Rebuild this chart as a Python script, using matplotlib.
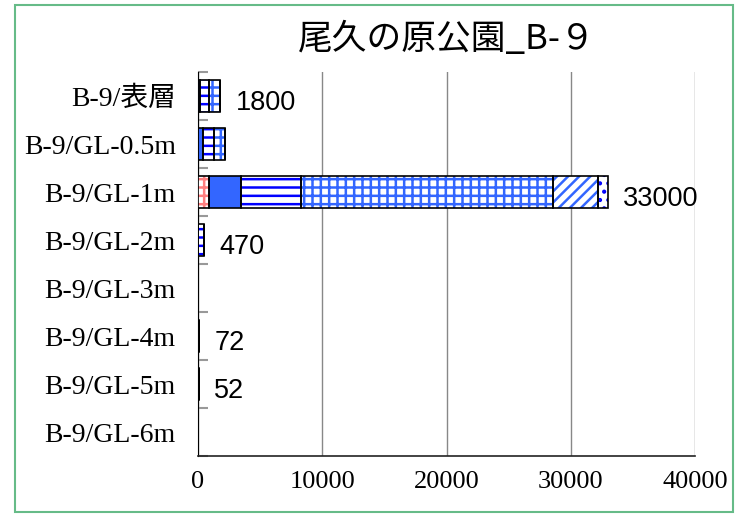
import matplotlib
matplotlib.use("Agg")
import matplotlib.pyplot as plt
from matplotlib.patches import Rectangle
import numpy as np

categories = ['B-9/表層', 'B-9/GL-0.5m', 'B-9/GL-1m', 'B-9/GL-2m',
              'B-9/GL-3m', 'B-9/GL-4m', 'B-9/GL-5m', 'B-9/GL-6m']
s_pink = [0, 0, 850, 0, 0, 0, 0, 0]
s_solid = [200, 400, 2650, 0, 0, 0, 0, 0]
s_hline = [650, 850, 4800, 470, 25, 72, 52, 30]
s_grid = [950, 900, 20300, 0, 0, 0, 0, 0]
s_diag = [0, 0, 3600, 0, 0, 0, 0, 0]
s_dots = [0, 0, 800, 0, 0, 0, 0, 0]
value_labels = ['1800', '', '33000', '470', '', '72', '52', '']
xticks = [0, 10000, 20000, 30000, 40000]
title = '尾久の原公園_B-９'

plt.rcParams['hatch.linewidth'] = 1.8
serif = ['Liberation Serif', 'Noto Sans CJK JP']

fig = plt.figure(figsize=(7.38, 5.17), dpi=100)
ax = fig.add_axes([198/738, 1-456/517, (695-198)/738, (456-72)/517])

y = np.arange(len(categories))
series = [
    (s_pink, 'white', '#FF8080', '++'),
    (s_solid, '#3366FF', '#3366FF', None),
    (s_hline, 'white', '#0000FF', '--'),
    (s_grid, 'white', '#3366FF', '++'),
    (s_diag, 'white', '#3366FF', '///'),
    (s_dots, 'white', '#0000FF', '..'),
]
left = np.zeros(len(categories))
h = 0.66
for vals, fc, hc, hatch in series:
    vals = np.array(vals, dtype=float)
    ax.barh(y, vals, left=left, height=h, color=fc, edgecolor=hc,
            hatch=hatch, linewidth=0, zorder=3)
    ax.barh(y, vals, left=left, height=h, fill=False, edgecolor='black',
            linewidth=1.2, zorder=4)
    left += vals

for i, lab in enumerate(value_labels):
    if lab:
        ax.annotate(lab, xy=(left[i], y[i]), xytext=(11, -5),
                    textcoords='offset points', va='center', ha='left',
                    fontsize=19.5, family=['Liberation Sans', 'DejaVu Sans'])

ax.set_ylim(len(categories) - 0.5, -0.5)
ax.set_xlim(0, 40000)
ax.set_yticks(y)
ax.set_yticklabels(categories, family=serif, fontsize=20)
ax.set_yticks(np.arange(len(categories) + 1) - 0.5, minor=True)
ax.tick_params(axis='y', which='major', length=0, pad=16)
ax.tick_params(axis='y', which='minor', direction='in', length=7,
               color='#999999', width=1.5)
ax.set_xticks(xticks)
ax.set_xticklabels([str(v) for v in xticks], family=serif, fontsize=19)
ax.tick_params(axis='x', length=0, pad=11)
ax.xaxis.grid(True, color='#888888', linewidth=1, zorder=0)
ax.set_axisbelow(True)
for sp in ['top', 'right']:
    ax.spines[sp].set_visible(False)
ax.spines['left'].set_color('black')
ax.spines['bottom'].set_color('#222222')
ax.spines['bottom'].set_linewidth(1.2)

fig.text(446.5/738, 1-40/517, title, ha='center', va='center',
         fontsize=25, family=['Noto Sans CJK JP', 'DejaVu Sans'])

fig.patches.append(Rectangle((15/738, 5/517), (733-15)/738, (512-5)/517,
                             transform=fig.transFigure, fill=False,
                             edgecolor='#66BB88', linewidth=1.5))

fig.savefig('out.png', dpi=100)
